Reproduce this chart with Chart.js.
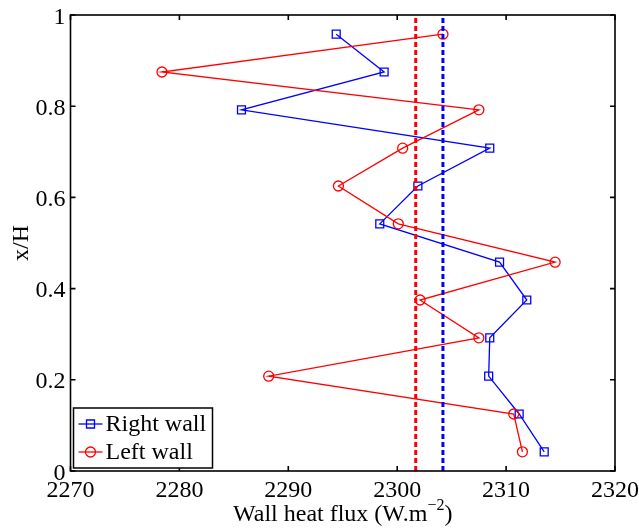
<!DOCTYPE html>
<html>
<head>
<meta charset="utf-8">
<script src="https://cdn.jsdelivr.net/npm/chart.js@4"></script>
<style>
html, body { margin: 0; padding: 0; background: #fff; }
#wrap { width: 639px; height: 532px; position: relative; }
</style>
</head>
<body>
<div id="wrap"><canvas id="c"></canvas></div>
<script>
// station heights (x/H), top to bottom
const heights = [0.958, 0.875, 0.792, 0.708, 0.625, 0.542, 0.458, 0.375, 0.292, 0.208, 0.125, 0.042];
// wall heat flux, W/m2
const rightWall = [2294.4, 2298.8, 2285.7, 2308.5, 2301.9, 2298.4, 2309.4, 2311.9, 2308.5, 2308.4, 2311.2, 2313.5];
const leftWall  = [2304.2, 2278.4, 2307.5, 2300.5, 2294.6, 2300.1, 2314.5, 2302.1, 2307.5, 2288.2, 2310.7, 2311.5];
// averaged flux (dashed lines)
const rightMean = 2304.2;
const leftMean  = 2301.7;
const xTicks = [2270, 2280, 2290, 2300, 2310, 2320];
const yTicks = [0, 0.2, 0.4, 0.6, 0.8, 1];
const xTickLabels = ['2270', '2280', '2290', '2300', '2310', '2320'];
const yTickLabels = ['0', '0.2', '0.4', '0.6', '0.8', '1'];
const seriesNames = ['Right wall', 'Left wall'];

const FONT = '"Liberation Serif", "Times New Roman", serif';
const BLUE = '#0000ff', RED = '#ff0000';

const pts = vals => vals.map((v, i) => ({ x: v, y: heights[i] }));

// frame, inward ticks, tick labels, legend, axis titles (matlab look)
const frame = {
  id: 'frame',
  afterDraw(chart) {
    const { ctx, chartArea: a, scales: { x, y } } = chart;
    ctx.save();
    ctx.strokeStyle = '#000';
    ctx.lineWidth = 1.6;
    ctx.strokeRect(a.left, a.top, a.right - a.left, a.bottom - a.top);
    const t = 5;
    ctx.beginPath();
    xTicks.forEach(v => {
      const px = x.getPixelForValue(v);
      ctx.moveTo(px, a.bottom); ctx.lineTo(px, a.bottom - t);
      ctx.moveTo(px, a.top); ctx.lineTo(px, a.top + t);
    });
    yTicks.forEach(v => {
      const py = y.getPixelForValue(v);
      ctx.moveTo(a.left, py); ctx.lineTo(a.left + t, py);
      ctx.moveTo(a.right, py); ctx.lineTo(a.right - t, py);
    });
    ctx.stroke();

    // tick labels
    ctx.fillStyle = '#000';
    ctx.font = '24px ' + FONT;
    ctx.textBaseline = 'alphabetic';
    ctx.textAlign = 'center';
    xTicks.forEach((v, i) => ctx.fillText(xTickLabels[i], x.getPixelForValue(v), a.bottom + 26));
    ctx.textAlign = 'right';
    yTicks.forEach((v, i) => ctx.fillText(yTickLabels[i], a.left - 5, y.getPixelForValue(v) + 8.5));
    ctx.textAlign = 'left';

    // legend box, bottom-left inside
    const lx = a.left + 3, ly = a.bottom - 63, lw = 139, lh = 60;
    ctx.fillStyle = '#fff';
    ctx.fillRect(lx, ly, lw, lh);
    ctx.lineWidth = 1.5;
    ctx.strokeRect(lx, ly, lw, lh);
    const rows = [
      { name: seriesNames[0], color: BLUE, shape: 'rect' },
      { name: seriesNames[1], color: RED, shape: 'circle' },
    ];
    ctx.font = '24px ' + FONT;
    ctx.textBaseline = 'middle';
    rows.forEach((r, i) => {
      const cy = ly + 16 + i * 28;
      ctx.strokeStyle = r.color;
      ctx.lineWidth = 1.3;
      ctx.beginPath();
      ctx.moveTo(lx + 5, cy); ctx.lineTo(lx + 29, cy);
      ctx.stroke();
      ctx.beginPath();
      if (r.shape === 'rect') ctx.rect(lx + 13, cy - 4, 8, 8);
      else ctx.arc(lx + 17, cy, 5, 0, Math.PI * 2);
      ctx.stroke();
      ctx.fillStyle = '#000';
      ctx.fillText(r.name, lx + 32, cy + 1);
    });

    // x title with superscript
    ctx.fillStyle = '#000';
    ctx.textBaseline = 'alphabetic';
    const main = 'Wall heat flux (W.m', sup = '\u22122', tail = ')';
    ctx.font = '24px ' + FONT;
    const w1 = ctx.measureText(main).width, w3 = ctx.measureText(tail).width;
    ctx.font = '16px ' + FONT;
    const w2 = ctx.measureText(sup).width;
    const cx = (a.left + a.right) / 2;
    const sx = cx - (w1 + w2 + w3) / 2;
    const base = 521;
    ctx.font = '24px ' + FONT;
    ctx.fillText(main, sx, base);
    ctx.font = '16px ' + FONT;
    ctx.fillText(sup, sx + w1, base - 11);
    ctx.font = '24px ' + FONT;
    ctx.fillText(tail, sx + w1 + w2, base);

    // y title
    ctx.save();
    ctx.translate(28, (a.top + a.bottom) / 2);
    ctx.rotate(-Math.PI / 2);
    ctx.textAlign = 'center';
    ctx.fillText('x/H', 0, 0);
    ctx.restore();
    ctx.restore();
  },
};

new Chart(document.getElementById('c'), {
  type: 'scatter',
  data: {
    datasets: [
      {
        label: 'right mean',
        data: [{ x: rightMean, y: 0 }, { x: rightMean, y: 1 }],
        showLine: true,
        borderColor: BLUE,
        borderWidth: 3,
        borderDash: [5, 3],
        pointRadius: 0,
        order: 0,
      },
      {
        label: 'left mean',
        data: [{ x: leftMean, y: 0 }, { x: leftMean, y: 1 }],
        showLine: true,
        borderColor: RED,
        borderWidth: 3,
        borderDash: [5, 3],
        pointRadius: 0,
        order: 1,
      },
      {
        label: seriesNames[1],
        data: pts(leftWall),
        showLine: true,
        borderColor: RED,
        borderWidth: 1.3,
        pointStyle: 'circle',
        pointRadius: 5,
        pointBorderWidth: 1.3,
        pointBackgroundColor: 'rgba(0,0,0,0)',
        pointBorderColor: RED,
        order: 2,
      },
      {
        label: seriesNames[0],
        data: pts(rightWall),
        showLine: true,
        borderColor: BLUE,
        borderWidth: 1.3,
        pointStyle: 'rect',
        pointRadius: 5.6,
        pointBorderWidth: 1.3,
        pointBackgroundColor: 'rgba(0,0,0,0)',
        pointBorderColor: BLUE,
        order: 3,
      },
    ],
  },
  options: {
    responsive: true,
    maintainAspectRatio: false,
    animation: false,
    clip: false,
    layout: { padding: { left: 0, top: 15, right: 24, bottom: 0 } },
    plugins: { legend: { display: false }, tooltip: { enabled: false } },
    scales: {
      x: {
        type: 'linear',
        min: 2270,
        max: 2320,
        afterBuildTicks: s => { s.ticks = xTicks.map(v => ({ value: v })); },
        afterFit: s => { s.height = 61; s.paddingLeft = 0; s.paddingRight = 0; },
        grid: { display: false, drawTicks: false },
        border: { display: false },
        ticks: { display: false },
      },
      y: {
        type: 'linear',
        min: 0,
        max: 1,
        afterBuildTicks: s => { s.ticks = yTicks.map(v => ({ value: v })); },
        afterFit: s => { s.width = 70.5; s.paddingTop = 0; s.paddingBottom = 0; },
        grid: { display: false, drawTicks: false },
        border: { display: false },
        ticks: { display: false },
      },
    },
  },
  plugins: [frame],
});
</script>
</body>
</html>
